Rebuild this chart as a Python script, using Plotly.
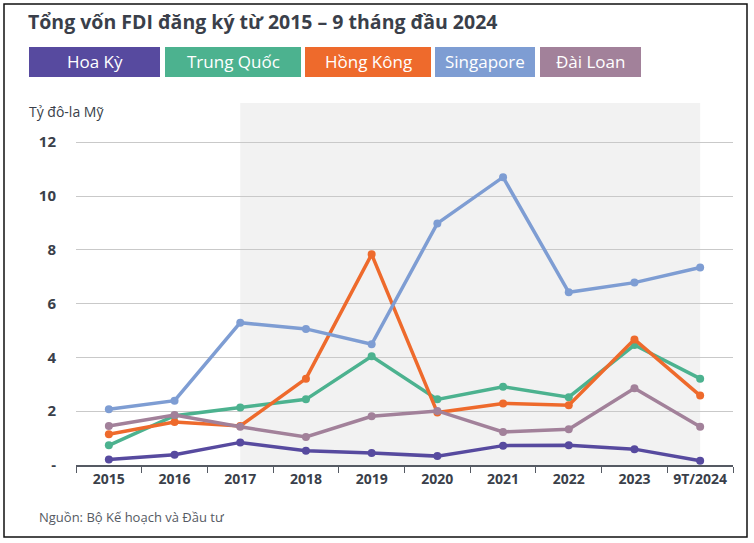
import plotly.graph_objects as go

categories = ["2015", "2016", "2017", "2018", "2019", "2020", "2021", "2022", "2023", "9T/2024"]
hoa_ky = [0.20, 0.38, 0.84, 0.53, 0.45, 0.33, 0.72, 0.73, 0.59, 0.16]
trung_quoc = [0.73, 1.83, 2.14, 2.44, 4.04, 2.44, 2.91, 2.52, 4.46, 3.21]
hong_kong = [1.14, 1.60, 1.45, 3.21, 7.83, 1.95, 2.29, 2.22, 4.67, 2.58]
singapore = [2.07, 2.39, 5.29, 5.06, 4.49, 8.98, 10.70, 6.42, 6.78, 7.34]
dai_loan = [1.45, 1.86, 1.42, 1.04, 1.81, 2.01, 1.23, 1.33, 2.85, 1.42]

series_names = ["Hoa Kỳ", "Trung Quốc", "Hồng Kông", "Singapore", "Đài Loan"]
series_values = [hoa_ky, trung_quoc, hong_kong, singapore, dai_loan]
series_colors = ["#574a9f", "#4cb28f", "#ee6a2c", "#7e9dd3", "#a2819a"]

y_ticks = [0, 2, 4, 6, 8, 10, 12]
y_ticktext = ["-", "2", "4", "6", "8", "10", "12"]

TXT = "#3a3f4a"
W, H = 754, 543
L, R, T, B = 76, 21, 103, 78
pw, ph = W - L - R, H - T - B

def px(x):
    return (x - L) / pw

def py(y):
    return (H - B - y) / ph

fig = go.Figure()
for name, vals, col in zip(series_names, series_values, series_colors):
    fig.add_trace(go.Scatter(
        x=categories, y=vals, name=name, mode="lines+markers",
        line=dict(color=col, width=3.5),
        marker=dict(color=col, size=8),
        showlegend=False,
    ))

shapes = []
shapes.append(dict(type="rect", xref="x", yref="paper", x0=2, x1=9, y0=0, y1=1,
                   fillcolor="#f2f2f2", line=dict(width=0), layer="below"))
shapes.append(dict(type="rect", xref="paper", yref="paper",
                   x0=px(4), x1=px(747), y0=py(537), y1=py(4),
                   line=dict(color="#111111", width=1.5), fillcolor="rgba(0,0,0,0)"))

annotations = []
boxes = [(29, 160), (165, 301), (305, 431), (435, 535), (540, 641)]
for (x0, x1), name, col in zip(boxes, series_names, series_colors):
    shapes.append(dict(type="rect", xref="paper", yref="paper",
                       x0=px(x0), x1=px(x1), y0=py(77), y1=py(47),
                       fillcolor=col, line=dict(width=0)))
    annotations.append(dict(xref="paper", yref="paper", x=px((x0 + x1) / 2), y=py(62),
                            text=name, showarrow=False, xanchor="center", yanchor="middle",
                            font=dict(family="Open Sans", size=17, color="white")))

annotations.append(dict(xref="paper", yref="paper", x=px(26), y=py(22),
                        text="<b>Tổng vốn FDI đăng ký từ 2015 – 9 tháng đầu 2024</b>",
                        showarrow=False, xanchor="left", yanchor="middle",
                        font=dict(family="Open Sans", size=19.5, color=TXT)))
annotations.append(dict(xref="paper", yref="paper", x=px(27), y=py(111),
                        text="Tỷ đô-la Mỹ", showarrow=False, xanchor="left", yanchor="middle",
                        font=dict(family="Open Sans", size=14, color=TXT)))
annotations.append(dict(xref="paper", yref="paper", x=px(37), y=py(517),
                        text="Nguồn: Bộ Kế hoạch và Đầu tư", showarrow=False,
                        xanchor="left", yanchor="middle",
                        font=dict(family="Open Sans", size=13, color="#555a63")))

fig.update_layout(
    width=W, height=H,
    margin=dict(l=L, r=R, t=T, b=B),
    paper_bgcolor="white", plot_bgcolor="white",
    shapes=shapes, annotations=annotations,
    hovermode=False,
    xaxis=dict(type="category", range=[-0.5, 9.5], showgrid=False,
               showline=True, linecolor="#555a63", linewidth=1.5,
               ticks="outside", tickson="boundaries", ticklen=6, tickcolor="#555a63",
               tickfont=dict(family="Open Sans", size=14, color=TXT, weight="bold"),
               fixedrange=True),
    yaxis=dict(range=[0, 362 / 26.9], tickvals=y_ticks, ticktext=y_ticktext,
               showgrid=True, gridcolor="#c9c9c9", gridwidth=1, zeroline=False,
               showline=False, ticks="", ticklabelstandoff=19,
               tickfont=dict(family="Open Sans", size=15, color=TXT, weight="bold"),
               fixedrange=True),
)

fig.write_html("out.html", config={"displayModeBar": False},
               post_script="document.body.style.margin='0';document.body.style.overflow='hidden';")
